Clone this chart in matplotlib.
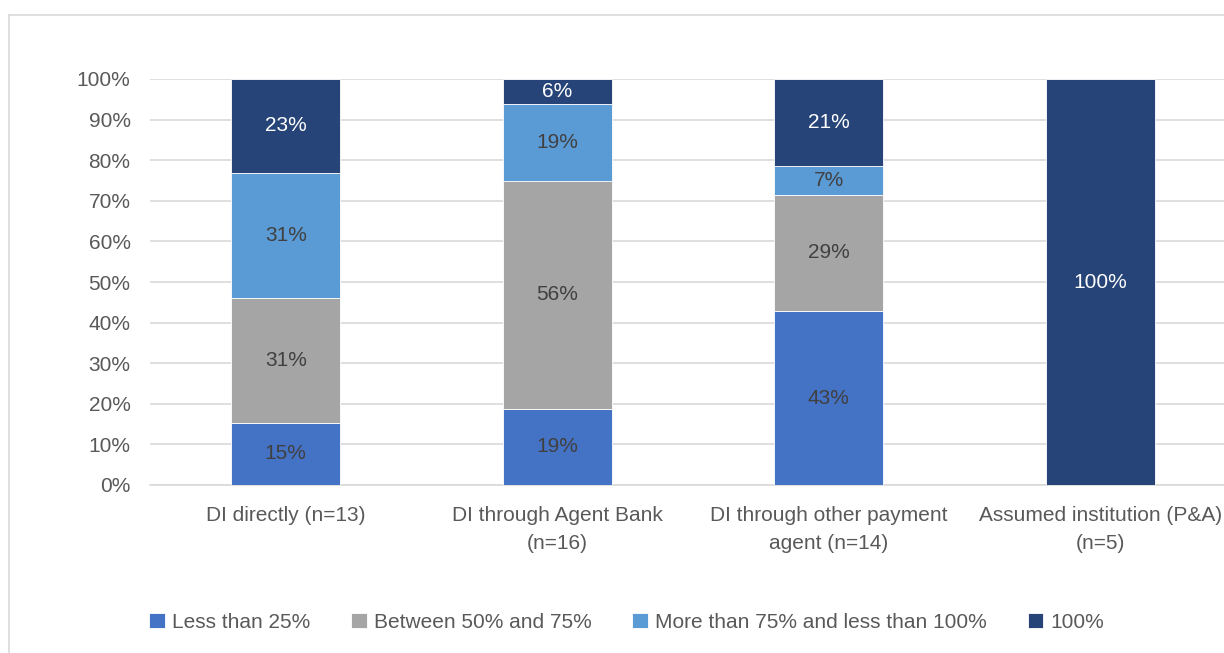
import matplotlib.pyplot as plt
from matplotlib.lines import Line2D
import numpy as np

# survey shares per resolution channel (in %)
categories = ['DI directly (n=13)', 'DI through Agent Bank\n(n=16)',
              'DI through other payment\nagent (n=14)', 'Assumed institution (P&A)\n(n=5)']
series_names = ['Less than 25%', 'Between 50% and 75%',
                'More than 75% and less than 100%', '100%']
less_25 = [2/13*100, 3/16*100, 6/14*100, 0]
btw_50_75 = [4/13*100, 9/16*100, 4/14*100, 0]
btw_75_100 = [4/13*100, 3/16*100, 1/14*100, 0]
full_100 = [3/13*100, 1/16*100, 3/14*100, 100]

colors = ['#4472C4', '#A5A5A5', '#5B9BD5', '#264478']
text_colors = ['#404040', '#404040', '#404040', 'white']

plt.rcParams['font.family'] = ['Liberation Sans', 'DejaVu Sans']
fs = 15

fig = plt.figure(figsize=(12.24, 6.53), dpi=100)
ax = fig.add_axes([150/1224, 1-485/653, 1086/1224, 406/653])

x = np.arange(len(categories))
bottom = np.zeros(len(categories))
for vals, name, col, tcol in zip([less_25, btw_50_75, btw_75_100, full_100],
                                 series_names, colors, text_colors):
    vals = np.array(vals)
    ax.bar(x, vals, 0.4, bottom=bottom, color=col, label=name,
           edgecolor='white', linewidth=0.6, zorder=3)
    for xi, v, b in zip(x, vals, bottom):
        if v > 0:
            ax.text(xi, b + v/2, '%d%%' % round(v), ha='center', va='center',
                    fontsize=fs, color=tcol, zorder=4)
    bottom += vals

ax.set_xlim(-0.5, 3.5)
ax.set_ylim(0, 100)
ax.set_yticks(np.arange(0, 101, 10))
ax.set_yticklabels(['%d%%' % t for t in range(0, 101, 10)])
ax.set_xticks(x)
ax.set_xticklabels(categories, linespacing=1.6, va='top')
ax.tick_params(axis='both', length=0, labelsize=fs, colors='#595959')
ax.tick_params(axis='y', pad=14)
ax.tick_params(axis='x', pad=15)
ax.yaxis.grid(True, color='#D9D9D9', linewidth=1.2, zorder=0)
for s in ['top', 'right', 'left']:
    ax.spines[s].set_visible(False)
ax.spines['bottom'].set_color('#D9D9D9')
ax.spines['bottom'].set_linewidth(1.2)

leg = fig.legend(loc='center', bbox_to_anchor=(0.512, 1-622/653), ncol=4,
                 frameon=False, fontsize=fs, handlelength=0.75, handleheight=0.75,
                 handletextpad=0.35, columnspacing=1.95)
for t in leg.get_texts():
    t.set_color('#595959')

# chart frame
fig.add_artist(Line2D([9/1224, 9/1224], [0, 1-15/653], color='#D9D9D9', linewidth=1.2))
fig.add_artist(Line2D([9/1224, 1], [1-15/653, 1-15/653], color='#D9D9D9', linewidth=1.2))

fig.savefig('out.png', dpi=100)
